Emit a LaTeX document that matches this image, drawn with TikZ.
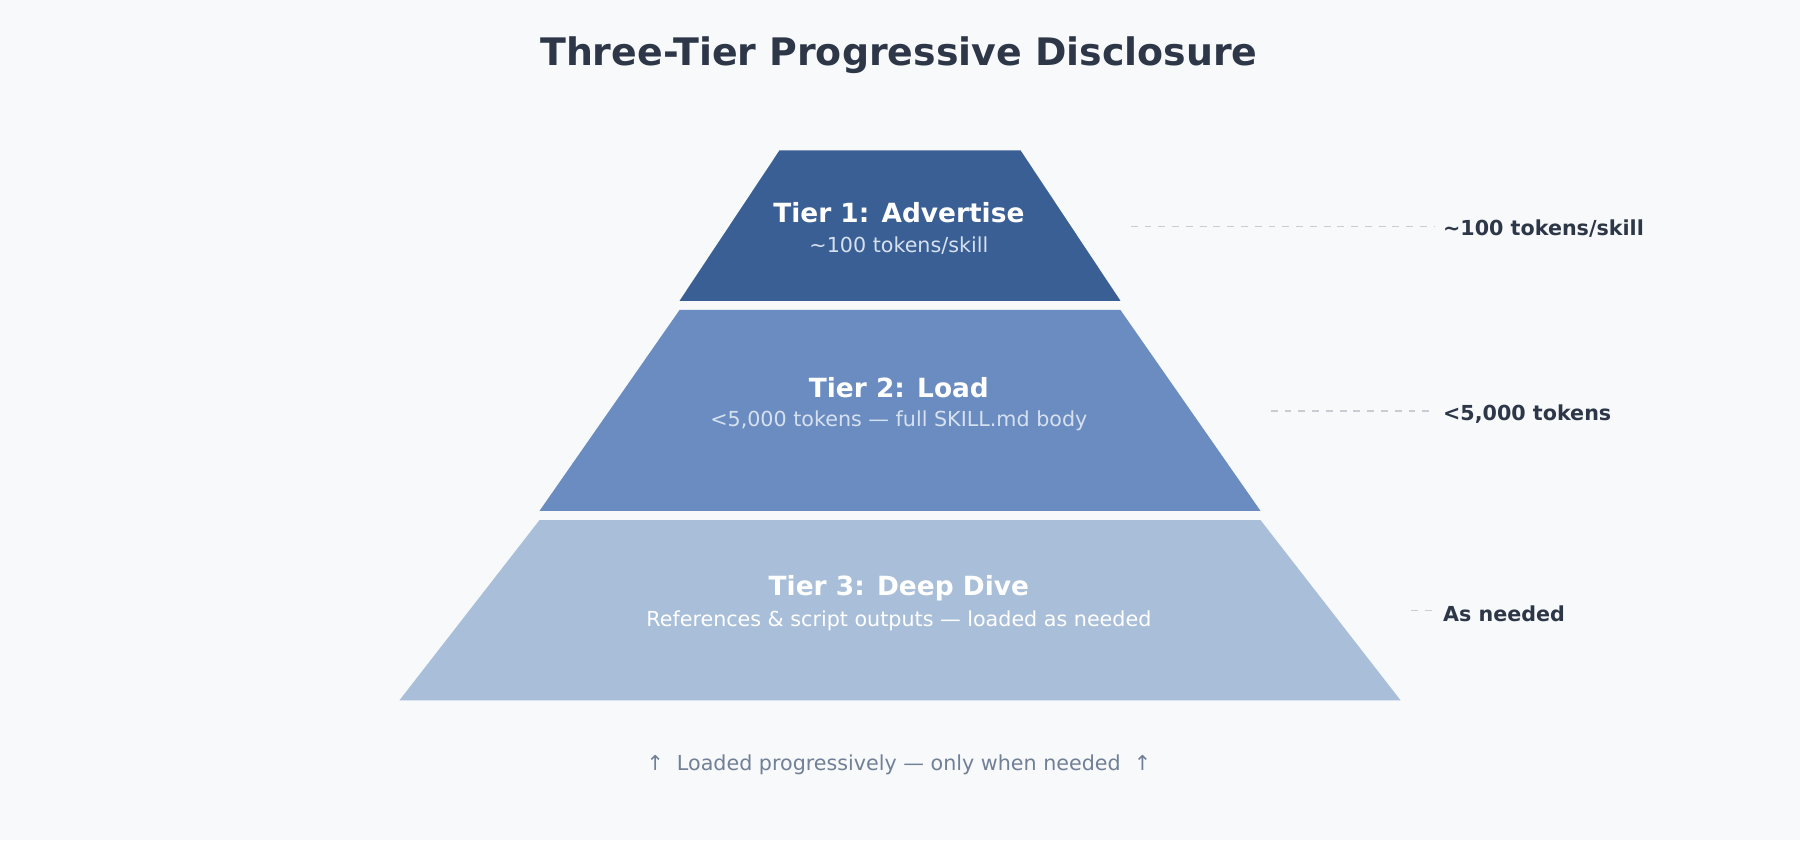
\documentclass[tikz,border=0pt]{standalone}
\usepackage{fontspec}
\setmainfont{DejaVu Sans}
\definecolor{bg}{HTML}{F7F9FA}
\definecolor{tone}{HTML}{3A5F94}
\definecolor{ttwo}{HTML}{6B8CC0}
\definecolor{tthree}{HTML}{A9BFD9}
\definecolor{dark}{HTML}{2D3748}
\definecolor{muted}{HTML}{718096}
\definecolor{subt}{HTML}{D6E1F0}
\definecolor{guide}{HTML}{C8CDD3}
\tikzset{
  tiertitle/.style={font=\bfseries\fontsize{11.5}{13}\selectfont, text=white, anchor=center},
  tiersub/.style={font=\fontsize{9}{11}\selectfont, anchor=center},
  sidelabel/.style={font=\bfseries\fontsize{9}{11}\selectfont, text=dark, anchor=west},
  guideline/.style={guide, dashed, line width=0.5pt}
}
\begin{document}
\begin{tikzpicture}[x=0.5pt,y=-0.5pt]
\useasboundingbox[fill=bg] (0,0) rectangle (1568,732);
\node[font=\bfseries\fontsize{16.5}{19}\selectfont, text=dark] (title) at (783,48) {Three-Tier Progressive Disclosure};
\fill[tone] (679,131) -- (889,131) -- (976,262) -- (592,262) -- cycle;
\fill[ttwo] (592,270) -- (976,270) -- (1098,445) -- (470,445) -- cycle;
\fill[tthree] (470,453) -- (1098,453) -- (1220,610) -- (348,610) -- cycle;
\node[tiertitle] (t1) at (783,185) {Tier 1: Advertise};
\node[tiersub, text=subt] (s1) at (783,214) {\textasciitilde100 tokens/skill};
\node[tiertitle] (t2) at (783,338) {Tier 2: Load};
\node[tiersub, text=subt] (s2) at (783,367) {<5,000 tokens — full SKILL.md body};
\node[tiertitle] (t3) at (783,512) {Tier 3: Deep Dive};
\node[tiersub, text=white] (s3) at (783,541) {References \& script outputs — loaded as needed};
\coordinate (g1) at (985,197);
\coordinate (g2) at (1107,358);
\coordinate (g3) at (1229,532);
\node[sidelabel] (l1) at (1250,199) {\textasciitilde100 tokens/skill};
\node[sidelabel] (l2) at (1250,361) {<5,000 tokens};
\node[sidelabel] (l3) at (1250,535) {As needed};
\draw[guideline] (g1) -- (g1 -| l1.west);
\draw[guideline] (g2) -- (g2 -| l2.west);
\draw[guideline] (g3) -- (g3 -| l3.west);
\node[font=\fontsize{9}{11}\selectfont, text=muted] (foot) at (783,666) {↑\ \ Loaded progressively — only when needed\ \ ↑};
\end{tikzpicture}
\end{document}
